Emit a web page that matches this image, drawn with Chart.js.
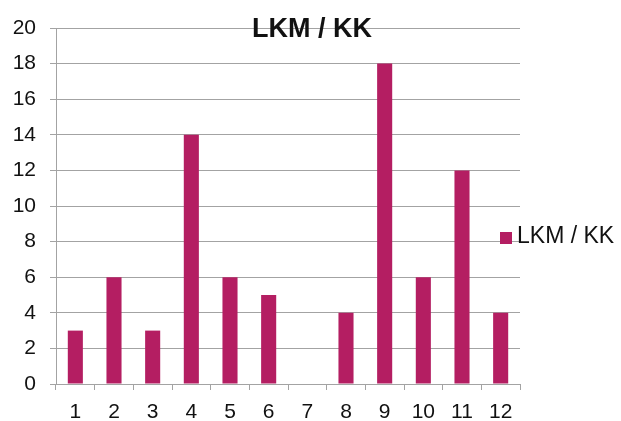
<!DOCTYPE html>
<html>
<head>
<meta charset="utf-8">
<script src="https://cdn.jsdelivr.net/npm/chart.js@4"></script>
<style>
  html, body { margin: 0; padding: 0; background: #fff; }
  #wrap { width: 621px; height: 421px; }
</style>
</head>
<body>
<div id="wrap"><canvas id="lkmChart" width="621" height="421"></canvas></div>
<script>
const months = ['1', '2', '3', '4', '5', '6', '7', '8', '9', '10', '11', '12'];
const lkmValues = [3, 6, 3, 14, 6, 5, 0, 4, 18, 6, 12, 4];
const seriesName = 'LKM / KK';
const chartTitle = 'LKM / KK';

const barColor = '#b41e62';
const gridColor = '#a3a3a3';
const textColor = '#111';
const fontFamily = '"Liberation Sans", Arial, sans-serif';

// title sits on top of the plot area, legend on the right side
const overlayText = {
  id: 'overlayText',
  afterDraw(chart) {
    const ctx = chart.ctx;
    ctx.save();
    ctx.fillStyle = textColor;
    ctx.font = 'bold 27px ' + fontFamily;
    ctx.textAlign = 'center';
    ctx.textBaseline = 'alphabetic';
    ctx.fillText(chartTitle, 312, 37);

    ctx.fillStyle = barColor;
    ctx.fillRect(500, 232, 12, 12);
    ctx.fillStyle = textColor;
    ctx.font = '23px ' + fontFamily;
    ctx.textAlign = 'left';
    ctx.textBaseline = 'middle';
    ctx.fillText(seriesName, 517, 237);
    ctx.restore();
  }
};

new Chart(document.getElementById('lkmChart'), {
  type: 'bar',
  data: {
    labels: months,
    datasets: [{
      label: seriesName,
      data: lkmValues,
      backgroundColor: barColor,
      barPercentage: 0.39,
      categoryPercentage: 1
    }]
  },
  options: {
    responsive: false,
    animation: false,
    layout: { padding: { top: 28, right: 101, bottom: 0, left: 0 } },
    plugins: {
      legend: { display: false },
      title: { display: false },
      tooltip: { enabled: false }
    },
    scales: {
      x: {
        afterFit: (scale) => { scale.height = 37; },
        grid: {
          offset: true,
          drawOnChartArea: false,
          drawTicks: true,
          tickLength: 6,
          color: gridColor
        },
        border: { color: gridColor },
        ticks: {
          color: textColor,
          padding: 10,
          font: { family: fontFamily, size: 21 },
          maxRotation: 0
        }
      },
      y: {
        min: 0,
        max: 20,
        afterFit: (scale) => { scale.width = 56; },
        grid: { color: gridColor, tickLength: 6 },
        border: { color: gridColor },
        ticks: {
          stepSize: 2,
          color: textColor,
          padding: 14,
          font: { family: fontFamily, size: 21 }
        }
      }
    }
  },
  plugins: [overlayText]
});
</script>
</body>
</html>
